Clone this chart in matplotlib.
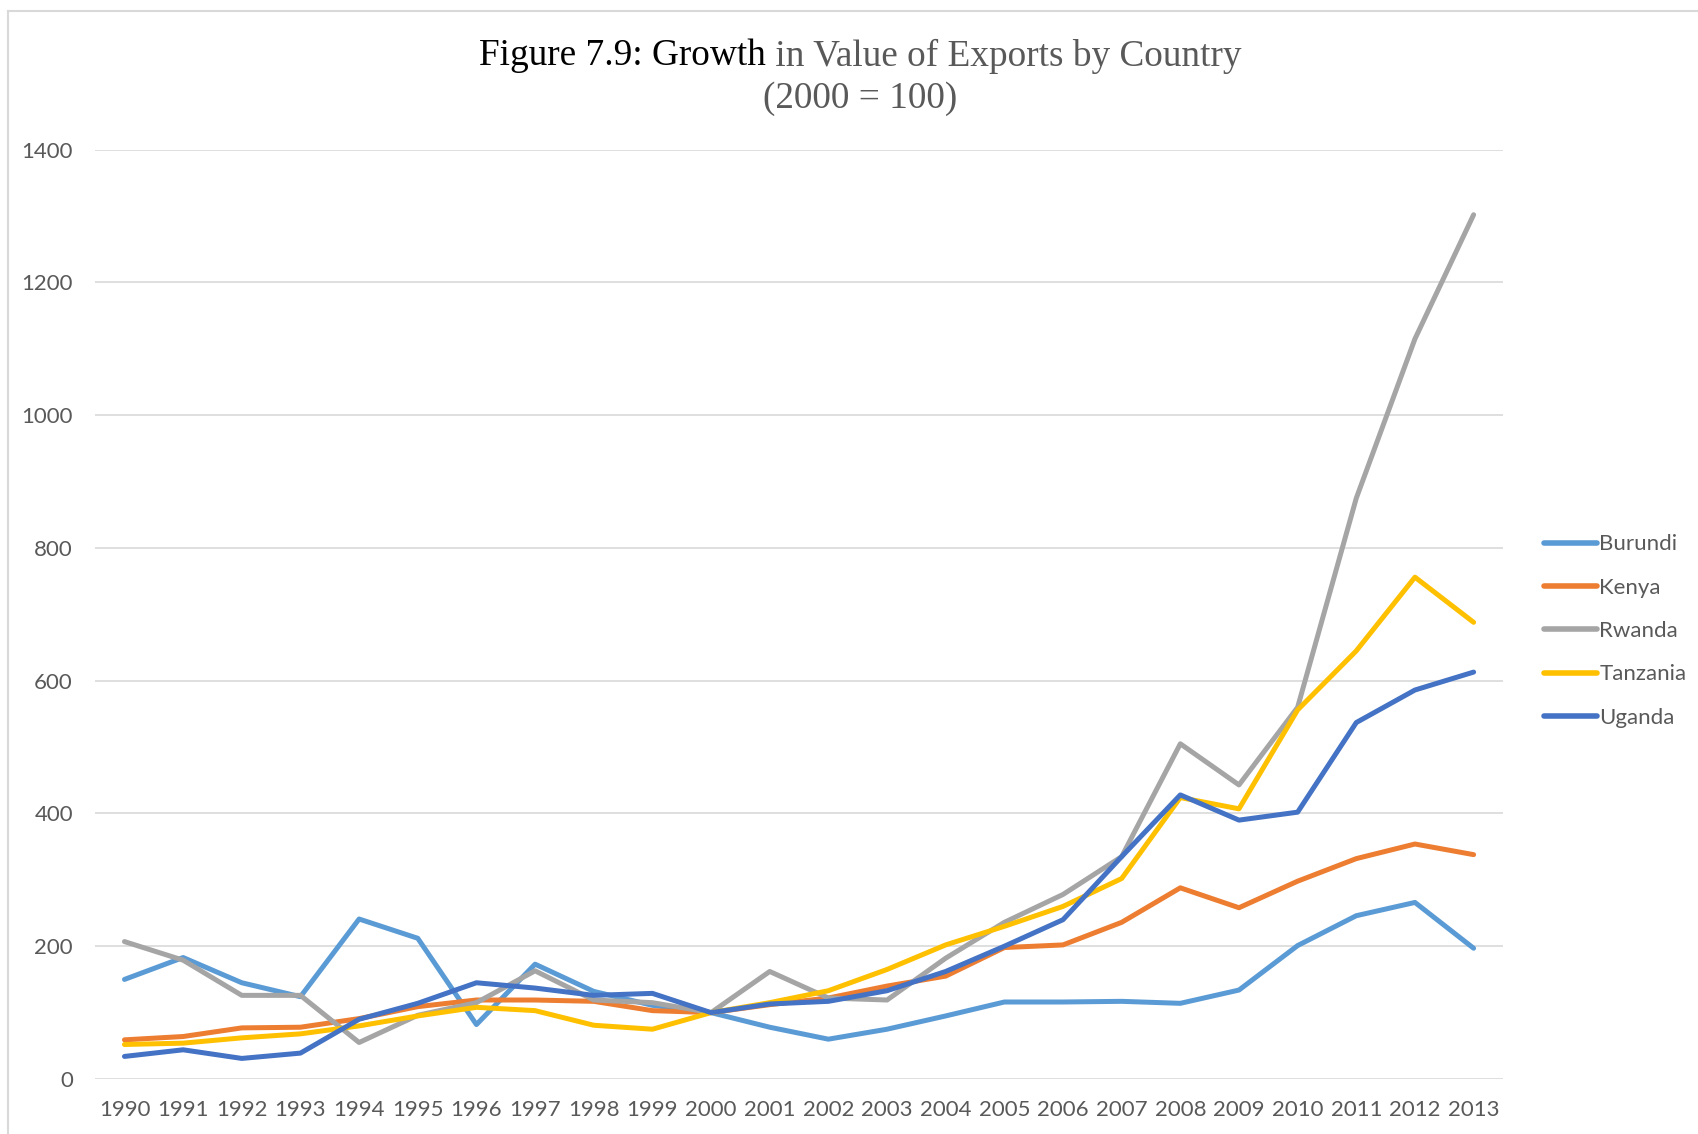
import matplotlib.pyplot as plt
from matplotlib.lines import Line2D

# Data (index 2000 = 100)
years = [str(y) for y in range(1990, 2014)]
burundi = [150, 183, 145, 124, 241, 212, 82, 173, 132, 111, 100, 78,
           60, 75, 95, 116, 116, 117, 114, 134, 201, 246, 266, 197]
kenya = [59, 64, 77, 78, 91, 109, 119, 119, 117, 103, 100, 112,
         122, 140, 155, 198, 202, 236, 288, 258, 298, 332, 354, 338]
rwanda = [207, 179, 126, 126, 55, 96, 115, 163, 119, 115, 100, 162,
          122, 119, 182, 236, 278, 335, 505, 443, 560, 875, 1115, 1302]
tanzania = [52, 54, 62, 68, 80, 95, 108, 103, 81, 75, 100, 115,
            133, 165, 202, 230, 260, 302, 424, 407, 556, 645, 756, 688]
uganda = [34, 44, 31, 39, 90, 114, 145, 137, 126, 129, 100, 113,
          117, 133, 162, 200, 240, 335, 428, 390, 402, 537, 586, 613]

series = [('Burundi', burundi, '#5B9BD5'),
          ('Kenya', kenya, '#ED7D31'),
          ('Rwanda', rwanda, '#A5A5A5'),
          ('Tanzania', tanzania, '#FFC000'),
          ('Uganda', uganda, '#4472C4')]

txt_gray = '#595959'
tick_font = 'Lato'

fig = plt.figure(figsize=(16.99, 11.34), dpi=100)
ax = fig.add_axes([0.056, 0.0485, 0.8286, 0.8195])

x = list(range(len(years)))
for name, vals, col in series:
    ax.plot(x, vals, color=col, lw=3.6, solid_joinstyle='round',
            solid_capstyle='round', label=name)

ax.set_xlim(-0.5, len(years) - 0.5)
ax.set_ylim(0, 1400)
ax.set_yticks(range(0, 1401, 200))
ax.set_xticks(x)
ax.set_xticklabels(years)
ax.grid(axis='y', color='#D9D9D9', lw=1.2)
ax.set_axisbelow(True)
for s in ax.spines.values():
    s.set_visible(False)
ax.tick_params(length=0, labelsize=16, labelcolor=txt_gray)
ax.tick_params(axis='x', pad=15)
ax.tick_params(axis='y', pad=16)
for lab in ax.get_xticklabels() + ax.get_yticklabels():
    lab.set_fontfamily(tick_font)

# legend on the right
leg_handles = [Line2D([0], [0], color=c, lw=4, solid_capstyle='round') for _, _, c in series]
fig.legend(leg_handles, [n for n, _, _ in series], loc='center left',
           bbox_to_anchor=(0.902, 0.4436), frameon=False, borderpad=0,
           handlelength=2.4, handletextpad=0.1, labelspacing=1.05,
           prop={'family': tick_font, 'size': 16}, labelcolor=txt_gray)

# two-colour title
fig.canvas.draw()
r = fig.canvas.get_renderer()
tkw = dict(fontsize=26.8, family='Liberation Serif', va='center')
t1 = fig.text(0, 0, 'Figure 7.9: Growth', color='black', **tkw)
t2 = fig.text(0, 0, ' in Value of Exports by Country', color=txt_gray, **tkw)
w1 = t1.get_window_extent(r).width / fig.bbox.width
w2 = t2.get_window_extent(r).width / fig.bbox.width
xc = 860 / 1699
y1 = 1 - 56 / 1134
t1.set_position((xc - (w1 + w2) / 2, y1))
t2.set_position((xc - (w1 + w2) / 2 + w1, y1))
fig.text(xc, 1 - 99 / 1134, '(2000 = 100)', color=txt_gray, ha='center', **tkw)

# chart-area border (top and left visible)
fig.add_artist(Line2D([8 / 1699, 8 / 1699], [0, 1 - 11 / 1134], color='#D9D9D9', lw=1.5))
fig.add_artist(Line2D([8 / 1699, 1], [1 - 11 / 1134, 1 - 11 / 1134], color='#D9D9D9', lw=1.5))

fig.savefig('out.png', dpi=100)
